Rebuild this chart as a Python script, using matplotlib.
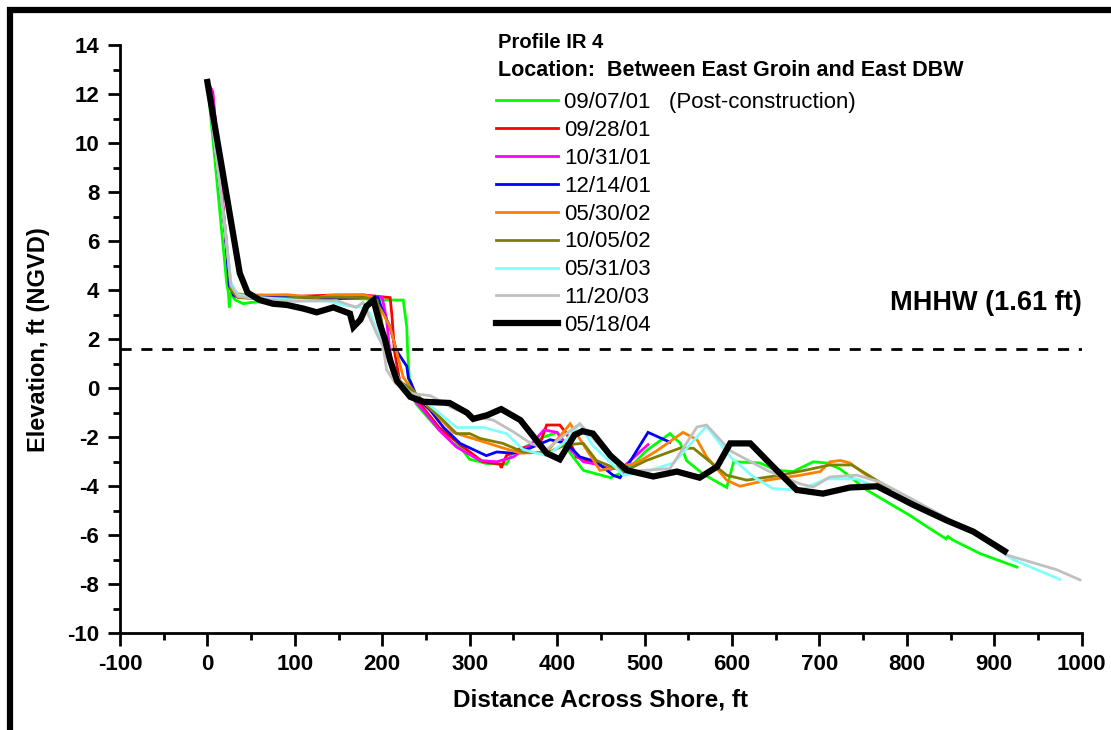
import matplotlib
matplotlib.use('Agg')
import matplotlib.pyplot as plt
from matplotlib.patches import Rectangle
from matplotlib.ticker import MultipleLocator

plt.rcParams['font.family'] = ['Liberation Sans', 'DejaVu Sans']
plt.rcParams['axes.unicode_minus'] = False

# survey dates and colours
dates = ['09/07/01   (Post-construction)', '09/28/01', '10/31/01', '12/14/01',
         '05/30/02', '10/05/02', '05/31/03', '11/20/03', '05/18/04']
colors = ['#00ff00', '#ff0000', '#ff00ff', '#0000ff', '#ff8000',
          '#808000', '#80ffff', '#c0c0c0', '#000000']

# profiles (distance ft, elevation ft NGVD)
x_090701 = [0, 22, 24, 25, 26, 32, 41, 49, 70, 100, 140, 178, 200, 224, 228, 229, 232, 239, 251, 265,
            281, 289, 300, 312, 319, 342, 350, 358, 384, 400, 415, 430, 461, 480, 502, 529, 541, 548,
            567, 594, 602, 632, 651, 670, 693, 708, 724, 754, 804, 823, 845, 847, 853, 884, 926]
y_090701 = [12.5, 4.3, 3.9, 3.3, 3.9, 3.6, 3.45, 3.5, 3.55, 3.6, 3.7, 3.65, 3.6, 3.6, 2.5, 1.5, -0.2,
            -0.65, -1.15, -1.7, -2.25, -2.4, -2.9, -3.0, -3.07, -3.1, -2.55, -2.5, -2.0, -1.8, -2.65,
            -3.35, -3.65, -3.35, -2.55, -1.85, -2.25, -2.95, -3.5, -4.05, -3.0, -3.05, -3.35, -3.4,
            -3.0, -3.05, -3.3, -4.15, -5.2, -5.65, -6.15, -6.05, -6.2, -6.75, -7.3]

x_092801 = [0, 6, 20, 26, 32, 60, 100, 140, 180, 209, 211, 214, 220, 232, 247, 265, 289, 315, 335,
            336, 342, 358, 380, 388, 403, 411, 422, 441, 461]
y_092801 = [12.5, 12.1, 6.5, 4.1, 3.75, 3.8, 3.75, 3.8, 3.8, 3.7, 3.0, 1.5, 0.3, -0.2, -0.8, -1.6,
            -2.3, -3.0, -3.1, -3.25, -2.75, -2.45, -2.3, -1.5, -1.5, -1.85, -2.8, -3.05, -3.3]

x_103101 = [0, 6, 20, 26, 31, 60, 100, 125, 145, 180, 200, 205, 210, 216, 232, 247, 265, 285, 312,
            331, 350, 370, 385, 400, 415, 430, 445, 460, 476, 504]
y_103101 = [12.5, 12.1, 6.6, 4.1, 3.75, 3.75, 3.7, 3.7, 3.8, 3.8, 3.7, 2.8, 1.0, 0.4, -0.3, -0.9,
            -1.7, -2.4, -2.95, -3.0, -2.8, -2.3, -1.7, -1.8, -2.5, -3.0, -3.1, -3.3, -3.2, -2.3]

x_121401 = [0, 20, 25, 30, 60, 100, 140, 180, 195, 201, 209, 216, 228, 230, 232, 240, 255, 270, 289,
            319, 331, 350, 365, 392, 411, 426, 445, 464, 472, 478, 504, 529]
y_121401 = [12.5, 6.5, 4.2, 3.8, 3.75, 3.7, 3.65, 3.7, 3.7, 3.1, 2.5, 1.55, 0.9, 0.4, 0.3, -0.4,
            -0.9, -1.6, -2.25, -2.75, -2.6, -2.65, -2.5, -2.1, -2.25, -2.8, -3.0, -3.55, -3.65, -3.3,
            -1.8, -2.2]

x_053002 = [0, 20, 27, 35, 56, 91, 125, 140, 178, 190, 201, 209, 216, 224, 232, 245, 260, 281, 308,
            335, 358, 388, 407, 415, 430, 449, 491, 514, 544, 560, 571, 594, 609, 640, 678, 701, 712,
            724, 735, 750, 781]
y_053002 = [12.5, 6.6, 4.1, 3.85, 3.8, 3.82, 3.7, 3.8, 3.82, 3.7, 3.05, 2.5, 1.55, 0.45, 0.05, -0.5,
            -1.0, -1.8, -2.1, -2.4, -2.65, -2.6, -1.8, -1.45, -2.3, -3.35, -3.05, -2.55, -1.8, -2.1,
            -2.8, -3.75, -4.0, -3.75, -3.55, -3.4, -3.0, -2.95, -3.05, -3.45, -4.15]

x_100502 = [0, 20, 27, 35, 60, 100, 140, 180, 194, 199, 205, 213, 232, 258, 285, 300, 312, 338, 361,
            388, 410, 430, 445, 476, 502, 540, 556, 594, 617, 655, 686, 712, 737, 781]
y_100502 = [12.5, 6.6, 4.0, 3.7, 3.65, 3.7, 3.72, 3.7, 3.6, 2.8, 1.4, 0.45, 0.0, -0.9, -1.85, -1.85,
            -2.05, -2.25, -2.6, -2.65, -2.3, -2.25, -2.95, -3.4, -2.95, -2.45, -2.45, -3.55, -3.75,
            -3.55, -3.33, -3.13, -3.13, -4.1]

x_053103 = [0, 20, 27, 35, 60, 100, 140, 155, 178, 186, 197, 209, 220, 232, 251, 268, 285, 316, 342,
            361, 388, 407, 426, 440, 476, 502, 533, 571, 598, 624, 647, 678, 708, 743, 769, 810, 850,
            880, 922, 975]
y_053103 = [12.5, 6.6, 4.3, 3.8, 3.7, 3.6, 3.55, 3.4, 3.3, 3.05, 2.1, 1.15, 0.3, -0.2, -0.6, -1.1,
            -1.6, -1.6, -1.85, -2.5, -2.75, -2.25, -1.45, -2.3, -3.55, -3.4, -3.05, -1.55, -2.8, -3.6,
            -4.1, -4.15, -3.7, -3.7, -4.1, -4.7, -5.4, -6.0, -7.0, -7.8]

x_112003 = [0, 20, 27, 35, 60, 100, 148, 170, 178, 182, 194, 201, 205, 215, 235, 255, 280, 304, 327,
            350, 370, 388, 405, 426, 450, 480, 529, 560, 571, 598, 640, 678, 693, 712, 743, 769, 810,
            853, 880, 914, 971, 998]
y_112003 = [12.5, 6.6, 4.2, 3.75, 3.65, 3.55, 3.58, 3.3, 3.5, 3.17, 2.2, 1.7, 0.75, 0.2, -0.22, -0.3,
            -0.8, -1.15, -1.3, -1.78, -2.25, -2.5, -2.0, -1.45, -2.4, -3.4, -3.28, -1.58, -1.5, -2.55,
            -3.35, -3.9, -4.03, -3.62, -3.55, -3.82, -4.6, -5.45, -5.95, -6.8, -7.4, -7.82]

x_051804 = [0, 37, 46, 60, 75, 91, 110, 125, 144, 163, 167, 175, 182, 190, 197, 203, 209, 217, 232,
            247, 277, 297, 304, 320, 336, 358, 388, 403, 420, 429, 441, 461, 480, 510, 537, 563, 583,
            598, 621, 647, 674, 704, 735, 766, 807, 846, 876, 912]
y_051804 = [12.5, 4.7, 3.9, 3.6, 3.45, 3.4, 3.25, 3.1, 3.3, 3.05, 2.5, 2.8, 3.35, 3.6, 2.65, 2.0,
            1.15, 0.3, -0.35, -0.55, -0.6, -1.0, -1.25, -1.1, -0.85, -1.3, -2.65, -2.9, -1.9, -1.75,
            -1.85, -2.75, -3.35, -3.6, -3.4, -3.65, -3.2, -2.25, -2.25, -3.2, -4.15, -4.3, -4.05,
            -4.0, -4.75, -5.4, -5.85, -6.65]

xs = [x_090701, x_092801, x_103101, x_121401, x_053002, x_100502, x_053103, x_112003, x_051804]
ys = [y_090701, y_092801, y_103101, y_121401, y_053002, y_100502, y_053103, y_112003, y_051804]

mhhw = 1.61

fig = plt.figure(figsize=(11.11, 7.30), dpi=100)
ax = fig.add_axes([0.108, 0.1325, 0.8656, 0.8055])

for i in range(len(dates)):
    lw = 4.5 if i == len(dates) - 1 else 2.0
    ax.plot(xs[i], ys[i], color=colors[i], lw=lw, label=dates[i], solid_joinstyle='miter')

ax.axhline(mhhw, color='black', lw=2.0, ls=(0, (4, 3.5)))
ax.text(1000, mhhw + 1.35, 'MHHW (1.61 ft)', ha='right', va='bottom',
        fontsize=19.5, fontweight='bold')

ax.set_xlim(-100, 1000)
ax.set_ylim(-10, 14)
ax.xaxis.set_major_locator(MultipleLocator(100))
ax.xaxis.set_minor_locator(MultipleLocator(50))
ax.yaxis.set_major_locator(MultipleLocator(2))
ax.yaxis.set_minor_locator(MultipleLocator(1))
ax.spines['top'].set_visible(False)
ax.spines['right'].set_visible(False)
ax.spines['left'].set_linewidth(2)
ax.spines['bottom'].set_linewidth(2)
ax.tick_params(which='major', length=9, width=2, labelsize=16, pad=6)
ax.tick_params(which='minor', length=5, width=2)
for t in ax.get_xticklabels() + ax.get_yticklabels():
    t.set_fontweight('bold')

ax.set_xlabel('Distance Across Shore, ft', fontsize=17.5, fontweight='bold', labelpad=10)
ax.set_ylabel('Elevation, ft (NGVD)', fontsize=17, fontweight='bold', labelpad=12)

fig.text(498 / 1111, 1 - 43 / 730, 'Profile IR 4', fontsize=14.5, fontweight='bold', va='center')
fig.text(498 / 1111, 1 - 70 / 730, 'Location:  Between East Groin and East DBW',
         fontsize=15.5, fontweight='bold', va='center')

leg = ax.legend(loc='upper left', bbox_to_anchor=(496 / 1111, 1 - 92 / 730),
                bbox_transform=fig.transFigure, frameon=False, fontsize=16,
                handlelength=2.8, handletextpad=0.25, labelspacing=0.31, borderpad=0,
                borderaxespad=0)

# black frame round the figure (cut off on right and bottom)
fig.patches.append(Rectangle((10 / 1111, -0.2), 1.2, 1.2 - 10 / 730,
                             transform=fig.transFigure, fill=False, lw=4.5, ec='black'))

fig.savefig('out.png', dpi=100)
